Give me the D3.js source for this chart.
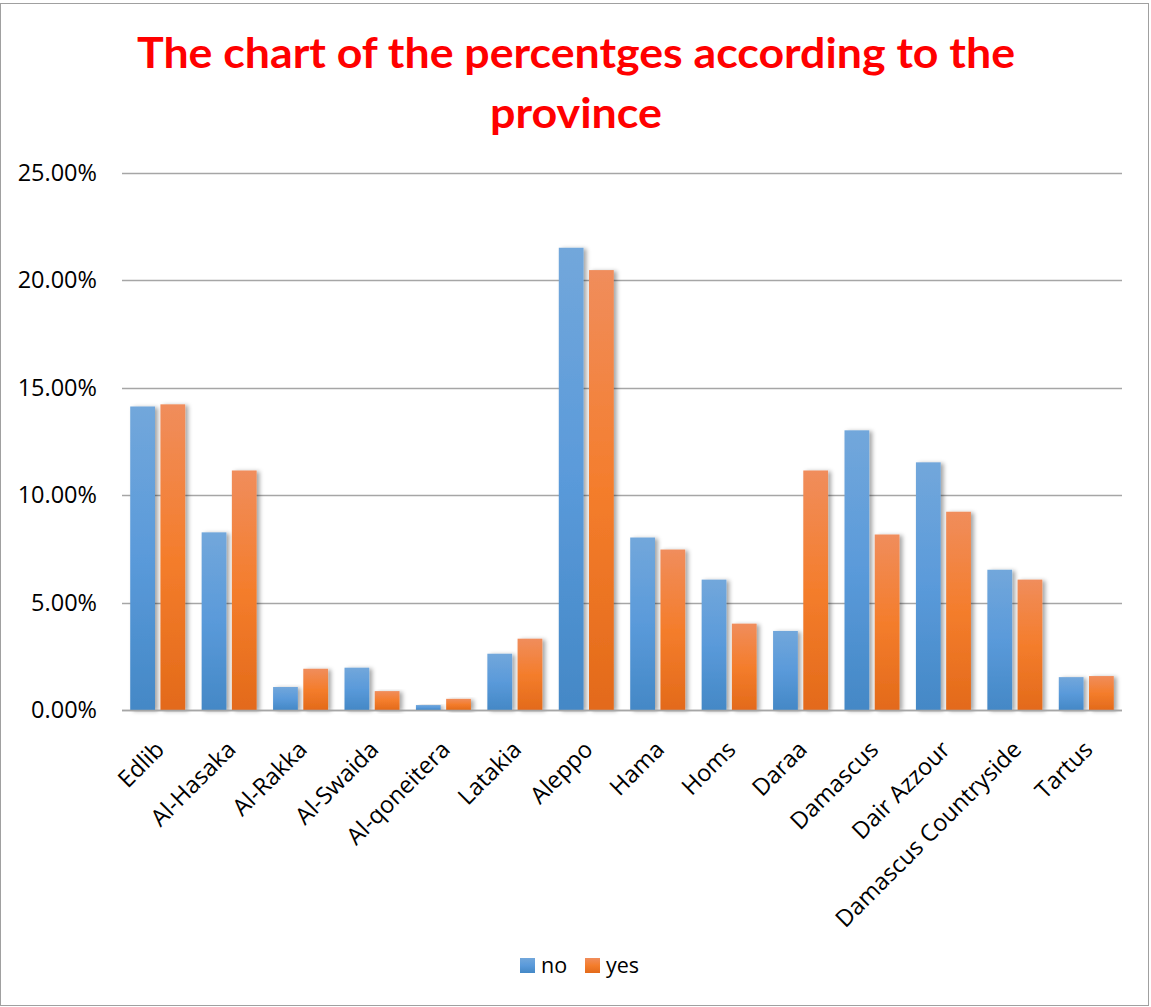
<!DOCTYPE html>
<html>
<head>
<meta charset="utf-8">
<script src="https://cdn.jsdelivr.net/npm/d3@7"></script>
<style>
  body { margin: 0; background: #fff; }
  svg { display: block; }
</style>
</head>
<body>
<div id="the_chart"></div>
<script>

var provinces = ["Edlib", "Al-Hasaka", "Al-Rakka", "Al-Swaida", "Al-qoneitera", "Latakia",
  "Aleppo", "Hama", "Homs", "Daraa", "Damascus", "Dair Azzour", "Damascus Countryside", "Tartus"];
var noValues = [14.13, 8.27, 1.07, 1.97, 0.23, 2.62, 21.52, 8.03, 6.07, 3.68, 13.02, 11.53, 6.53, 1.53];
var yesValues = [14.23, 11.15, 1.92, 0.88, 0.52, 3.32, 20.48, 7.47, 4.02, 11.15, 8.17, 9.23, 6.07, 1.58];
var seriesNames = ["no", "yes"];
var yTicks = [0, 5, 10, 15, 20, 25];

var w = 1151;
var h = 1007;

var svg = d3.select("#the_chart")
  .append("svg")
  .attr("width", w)
  .attr("height", h);

var defs = svg.append("defs");

function addGradient(id, c1, c2, c3) {
  var g = defs.append("linearGradient")
    .attr("id", id)
    .attr("x1", 0).attr("y1", 0)
    .attr("x2", 0).attr("y2", 1);
  g.append("stop").attr("offset", "0%").attr("stop-color", c1);
  g.append("stop").attr("offset", "50%").attr("stop-color", c2);
  g.append("stop").attr("offset", "100%").attr("stop-color", c3);
}
addGradient("grad_no", "#72a7db", "#5a9ada", "#4488c6");
addGradient("grad_yes", "#f08d5c", "#f47d2c", "#e36a1a");

var shadow = defs.append("filter")
  .attr("id", "shadow")
  .attr("x", "-30%").attr("y", "-10%")
  .attr("width", "170%").attr("height", "130%");
shadow.append("feDropShadow")
  .attr("dx", 3).attr("dy", 1)
  .attr("stdDeviation", 2.2)
  .attr("flood-color", "#000")
  .attr("flood-opacity", 0.35);

// chart border
svg.append("rect")
  .attr("x", 0.5).attr("y", 3.5)
  .attr("width", w - 3).attr("height", h - 5)
  .attr("fill", "#fff")
  .attr("stroke", "#a0a0a0");

// title
var title = svg.append("text")
  .attr("text-anchor", "middle")
  .attr("font-family", "Lato, 'Open Sans', sans-serif")
  .attr("font-weight", "bold")
  .attr("font-size", 42)
  .attr("fill", "#ff0000");
title.append("tspan")
  .attr("x", 576).attr("y", 68)
  .attr("textLength", 878)
  .attr("lengthAdjust", "spacingAndGlyphs")
  .text("The chart of the percentges according to the");
title.append("tspan")
  .attr("x", 576).attr("y", 128)
  .attr("textLength", 172)
  .attr("lengthAdjust", "spacingAndGlyphs")
  .text("province");

var plotLeft = 122, plotRight = 1122, plotTop = 173, plotBottom = 710;

var yscale = d3.scaleLinear()
  .domain([0, 25])
  .range([plotBottom, plotTop]);

var xscale = d3.scaleBand()
  .domain(provinces)
  .range([plotLeft, plotRight])
  .paddingInner(0.23)
  .paddingOuter(0.115);

var sub = d3.scaleBand()
  .domain(seriesNames)
  .range([0, xscale.bandwidth()])
  .paddingInner(0.18);

// gridlines
svg.append("g")
  .selectAll("line")
  .data(yTicks)
  .enter().append("line")
  .attr("x1", plotLeft).attr("x2", plotRight)
  .attr("y1", function (d) { return Math.round(yscale(d)) + 0.5; })
  .attr("y2", function (d) { return Math.round(yscale(d)) + 0.5; })
  .attr("stroke", "#a6a6a6")
  .attr("stroke-width", 1.3);

var yaxis = d3.axisLeft()
  .scale(yscale)
  .tickValues(yTicks)
  .tickSize(0)
  .tickPadding(0)
  .tickFormat(function (d) { return d.toFixed(2) + "%"; });

var gY = svg.append("g")
  .attr("transform", "translate(97,0)")
  .call(yaxis);
gY.select(".domain").remove();
gY.selectAll("text")
  .attr("font-family", "'Open Sans', sans-serif")
  .attr("font-size", 23.5)
  .attr("fill", "#000");

// bars
var rows = provinces.map(function (p, i) {
  return { province: p, values: [noValues[i], yesValues[i]] };
});

var groups = svg.append("g")
  .selectAll("g")
  .data(rows)
  .enter().append("g")
  .attr("transform", function (d) { return "translate(" + xscale(d.province) + ",0)"; });

groups.selectAll("rect")
  .data(function (d) {
    return d.values.map(function (v, j) { return { series: seriesNames[j], value: v }; });
  })
  .enter().append("rect")
  .attr("x", function (d) { return sub(d.series); })
  .attr("width", sub.bandwidth())
  .attr("y", function (d) { return yscale(d.value); })
  .attr("height", function (d) { return plotBottom - yscale(d.value); })
  .attr("fill", function (d) { return "url(#grad_" + d.series + ")"; })
  .attr("filter", "url(#shadow)");

// x axis
var xaxis = d3.axisBottom()
  .scale(xscale)
  .tickSize(0)
  .tickPadding(0);

var gX = svg.append("g")
  .attr("transform", "translate(0," + plotBottom + ")")
  .call(xaxis);
gX.select(".domain")
  .attr("d", "M" + plotLeft + ",0.5H" + plotRight)
  .attr("stroke", "#a6a6a6")
  .attr("stroke-width", 1.3);
gX.selectAll("text")
  .attr("font-family", "'Open Sans', sans-serif")
  .attr("font-size", 23.5)
  .attr("fill", "#000")
  .attr("text-anchor", "end")
  .attr("dy", 0)
  .attr("transform", "translate(8,41) rotate(-45)");

// legend
var legend = svg.append("g")
  .attr("transform", "translate(520,958)");
var items = legend.selectAll("g")
  .data(seriesNames)
  .enter().append("g")
  .attr("transform", function (d, i) { return "translate(" + (i * 65) + ",0)"; });
items.append("rect")
  .attr("width", 15).attr("height", 15)
  .attr("fill", function (d) { return "url(#grad_" + d + ")"; });
items.append("text")
  .attr("x", 21).attr("y", 15)
  .attr("font-family", "'Open Sans', sans-serif")
  .attr("font-size", 21.5)
  .attr("fill", "#000")
  .text(function (d) { return d; });

</script>
</body>
</html>
